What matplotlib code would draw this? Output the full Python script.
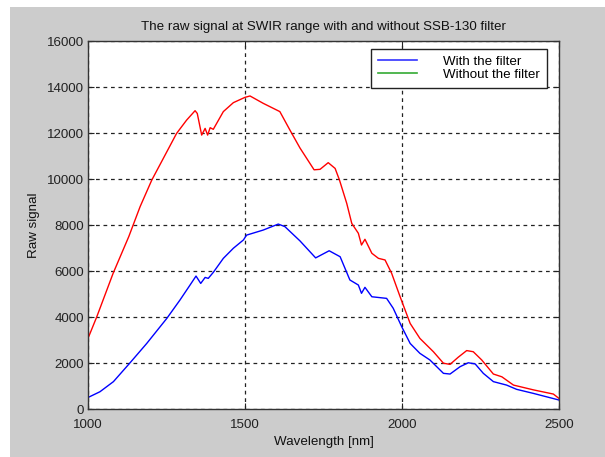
import numpy as np
import matplotlib
matplotlib.use("Agg")
import matplotlib.pyplot as plt
from matplotlib.patches import Rectangle

# wavelength [nm] and raw signal
wl_without = [1000, 1028, 1080, 1130, 1166, 1203, 1240, 1282, 1314, 1341, 1348,
              1362, 1373, 1381, 1389, 1399, 1431, 1463, 1500, 1516, 1558, 1611,
              1643, 1675, 1720, 1739, 1765, 1787, 1801, 1824, 1840, 1861, 1871,
              1882, 1904, 1925, 1946, 1967, 1994, 2026, 2057, 2100, 2132, 2153,
              2179, 2206, 2227, 2254, 2291, 2318, 2355, 2419, 2482, 2500]
sig_without = [3070, 4010, 5900, 7500, 8800, 9950, 10900, 11980, 12560, 12970, 12850,
               11910, 12200, 11910, 12230, 12160, 12930, 13320, 13550, 13610, 13290, 12930,
               12130, 11350, 10400, 10420, 10710, 10460, 9950, 8940, 8070, 7640, 7130,
               7380, 6770, 6550, 6480, 5900, 4880, 3720, 3070, 2490, 1990, 1940,
               2250, 2540, 2490, 2130, 1520, 1400, 1040, 830, 650, 460]

wl_with = [1000, 1038, 1081, 1134, 1187, 1251, 1293, 1325, 1344, 1359, 1373, 1383,
           1399, 1431, 1463, 1495, 1505, 1558, 1606, 1627, 1675, 1725, 1768, 1803,
           1834, 1861, 1871, 1882, 1904, 1951, 1972, 1999, 2026, 2057, 2089, 2132,
           2153, 2185, 2211, 2233, 2259, 2291, 2333, 2365, 2418, 2500]
sig_with = [500, 750, 1190, 2010, 2850, 3940, 4740, 5390, 5780, 5460, 5720, 5680,
            5940, 6550, 6990, 7350, 7560, 7780, 8040, 7930, 7310, 6570, 6880, 6620,
            5610, 5390, 5030, 5290, 4880, 4810, 4380, 3580, 2850, 2420, 2130, 1550,
            1520, 1840, 2010, 1960, 1550, 1190, 1040, 855, 680, 390]

fig = plt.figure(figsize=(6.05, 4.57), dpi=100, facecolor="white")
fig.patches.append(Rectangle((10 / 605, 0), 1, 1 - 7 / 457, transform=fig.transFigure,
                             facecolor="#cccccc", edgecolor="none", zorder=-10))

plt.rcParams["font.family"] = ["Liberation Sans", "DejaVu Sans"]

ax = fig.add_axes([88 / 605, 48 / 457, 471 / 605, 368 / 457])
ax.set_facecolor("white")

ax.plot(wl_with, sig_with, color="#0000ff", lw=1.0)
ax.plot(wl_without, sig_without, color="#ff0000", lw=1.0)

ax.set_xlim(1000, 2500)
ax.set_ylim(0, 16000)
ax.set_xticks([1000, 1500, 2000, 2500])
ax.set_yticks(np.arange(0, 16001, 2000))
ax.grid(True, color="#222222", linestyle=(0, (3, 3)), linewidth=0.9)
ax.tick_params(direction="in", length=4, top=True, right=True, labelsize=9.6,
               colors="#222222", pad=3)
ax.tick_params(axis="x", pad=7)
for s in ax.spines.values():
    s.set_color("#333333")
    s.set_linewidth(1.0)

ax.set_title("The raw signal at SWIR range with and without SSB-130 filter",
             fontsize=9.6, color="#111111", pad=8)
ax.set_xlabel("Wavelength [nm]", fontsize=9.6, color="#111111", labelpad=4)
ax.set_ylabel("Raw signal", fontsize=9.6, color="#111111", labelpad=5)

# legend handles as in the original (second entry is green)
h1, = ax.plot([], [], color="#3333ff", lw=1.2)
h2, = ax.plot([], [], color="#33aa33", lw=1.2)
leg = ax.legend([h1, h2], ["With the filter", "Without the filter"],
                loc="upper right", bbox_to_anchor=(0.9745, 0.978), fontsize=9.6,
                handlelength=2.9, handletextpad=2.0, borderpad=0.5,
                labelspacing=0.05, fancybox=False, framealpha=1, borderaxespad=0)
leg.get_frame().set_edgecolor("#222222")
leg.get_frame().set_linewidth(1.0)

fig.savefig("out.png", dpi=100, facecolor=fig.get_facecolor())
